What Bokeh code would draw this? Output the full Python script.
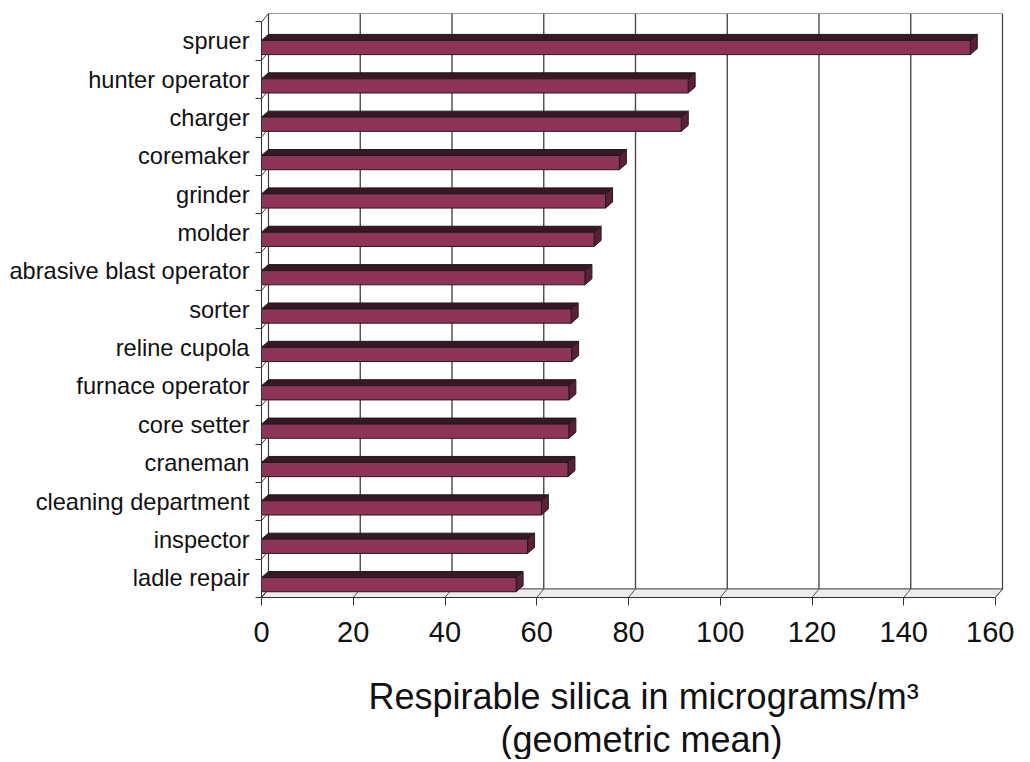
from bokeh.plotting import figure
from bokeh.models import FixedTicker, Range1d, Title
from bokeh.embed import file_html
from bokeh.resources import INLINE

# ---- data ----
jobs = ["spruer", "hunter operator", "charger", "coremaker", "grinder", "molder",
        "abrasive blast operator", "sorter", "reline cupola", "furnace operator",
        "core setter", "craneman", "cleaning department", "inspector", "ladle repair"]
silica = [154.5, 93.0, 91.5, 78.0, 75.0, 72.5, 70.5, 67.5, 67.6, 67.0, 67.0, 66.8, 61.0, 58.0, 55.5]
x_ticks = [0, 20, 40, 60, 80, 100, 120, 140, 160]
x_title_1 = "Respirable silica in micrograms/m\u00b3"
x_title_2 = "(geometric mean)"

# ---- geometry / style ----
FONT = "Liberation Sans"
n = len(jobs)
pos = [n - 1 - i for i in range(n)]          # first job on top
bounds_y = [k - 0.5 for k in range(n + 1)]
XMAX = x_ticks[-1]
FW, FH = 743, 584
XEND = 161.96
PX_X = FW / XEND                              # px per x unit
PX_Y = FH / (n + 0.22)                        # px per y unit
DX = 7 / PX_X                                 # wall depth offset
DY = 8.5 / PX_Y
BDX = 7 / PX_X                                # bar depth offset
BDY = 6 / PX_Y
FACE_LO, FACE_HI = -0.35, 0.02               # front face relative to band centre

FRONT = "#8f3459"
TOP = "#3b1726"
END = "#5c1f3a"
EDGE = "#1c1c1c"
WALL = "#3c3c3c"

p = figure(frame_width=FW, frame_height=FH,
           x_range=Range1d(0, XEND), y_range=Range1d(-0.5, n - 0.5 + DY),
           output_backend="svg", toolbar_location=None,
           min_border_left=261, min_border_right=10, min_border_top=13, min_border_bottom=153)
p.grid.visible = False
p.outline_line_color = None
p.background_fill_color = "white"
p.border_fill_color = "white"

y_bot = -0.5
y_top = n - 0.5

# back wall
p.quad(left=DX, right=XMAX + DX, bottom=y_bot + DY, top=y_top + DY,
       fill_color="white", line_color=WALL, line_width=1.2)
# back wall gridlines
gx = [t + DX for t in x_ticks[1:-1]]
p.segment(x0=gx, y0=[y_bot + DY] * len(gx), x1=gx, y1=[y_top + DY] * len(gx),
          line_color="#4a4a4a", line_width=1.4)
# floor
p.patch([0, XMAX, XMAX + DX, DX], [y_bot, y_bot, y_bot + DY, y_bot + DY],
        fill_color="#ececec", line_color="#666666", line_width=1)
p.segment(x0=x_ticks, y0=[y_bot] * len(x_ticks),
          x1=[t + DX for t in x_ticks], y1=[y_bot + DY] * len(x_ticks),
          line_color="#555555", line_width=1)
# left side wall lines
p.segment(x0=[0] * len(bounds_y), y0=bounds_y, x1=[DX] * len(bounds_y),
          y1=[b + DY for b in bounds_y], line_color=WALL, line_width=1)

# bars
top_xs, top_ys, end_xs, end_ys = [], [], [], []
lefts, rights, bots, tops = [], [], [], []
for yc, v in zip(pos, silica):
    b = yc + FACE_LO
    t = yc + FACE_HI
    top_xs.append([0, v, v + BDX, BDX])
    top_ys.append([t, t, t + BDY, t + BDY])
    end_xs.append([v, v, v + BDX, v + BDX])
    end_ys.append([b, t, t + BDY, b + BDY])
    lefts.append(0); rights.append(v); bots.append(b); tops.append(t)

p.patches(top_xs, top_ys, fill_color=TOP, line_color=EDGE, line_width=1)
p.patches(end_xs, end_ys, fill_color=END, line_color=EDGE, line_width=1)
p.quad(left=lefts, right=rights, bottom=bots, top=tops,
       fill_color=FRONT, line_color=EDGE, line_width=1)

# x axis
xa = p.xaxis[0]
xa.ticker = FixedTicker(ticks=x_ticks)
xa.bounds = (0, XMAX)
xa.major_tick_out = 8
xa.major_tick_in = 0
xa.minor_tick_line_color = None
xa.axis_line_color = "#333333"
xa.major_tick_line_color = "#333333"
xa.major_label_text_font = FONT
xa.major_label_text_font_size = "29px"
xa.major_label_text_color = "#111111"
xa.major_label_standoff = 16
# invisible spacer label to push the two title lines down
xa.axis_label = "\u00a0"
xa.axis_label_text_font_size = "1px"
xa.axis_label_standoff = 25

# y axis
ya = p.yaxis[0]
ya.ticker = FixedTicker(ticks=pos, minor_ticks=bounds_y)
ya.major_label_overrides = {yc: name for yc, name in zip(pos, jobs)}
ya.bounds = (y_bot, y_top)
ya.major_tick_out = 0
ya.major_tick_in = 0
ya.minor_tick_out = 6
ya.minor_tick_in = 0
ya.axis_line_color = "#333333"
ya.minor_tick_line_color = "#333333"
ya.major_label_text_font = FONT
ya.major_label_text_font_size = "23.6px"
ya.major_label_text_color = "#111111"
ya.major_label_standoff = 6

# axis title (two lines)
t1 = Title(text=x_title_1, align="left", offset=107, standoff=0,
           text_font=FONT, text_font_size="36px", text_font_style="normal",
           text_color="#111111")
t2 = Title(text=x_title_2, align="left", offset=239, standoff=0,
           text_font=FONT, text_font_size="36px", text_font_style="normal",
           text_color="#111111")
p.add_layout(t1, "below")
p.add_layout(t2, "below")

open("out.html", "w").write(file_html(p, INLINE))
